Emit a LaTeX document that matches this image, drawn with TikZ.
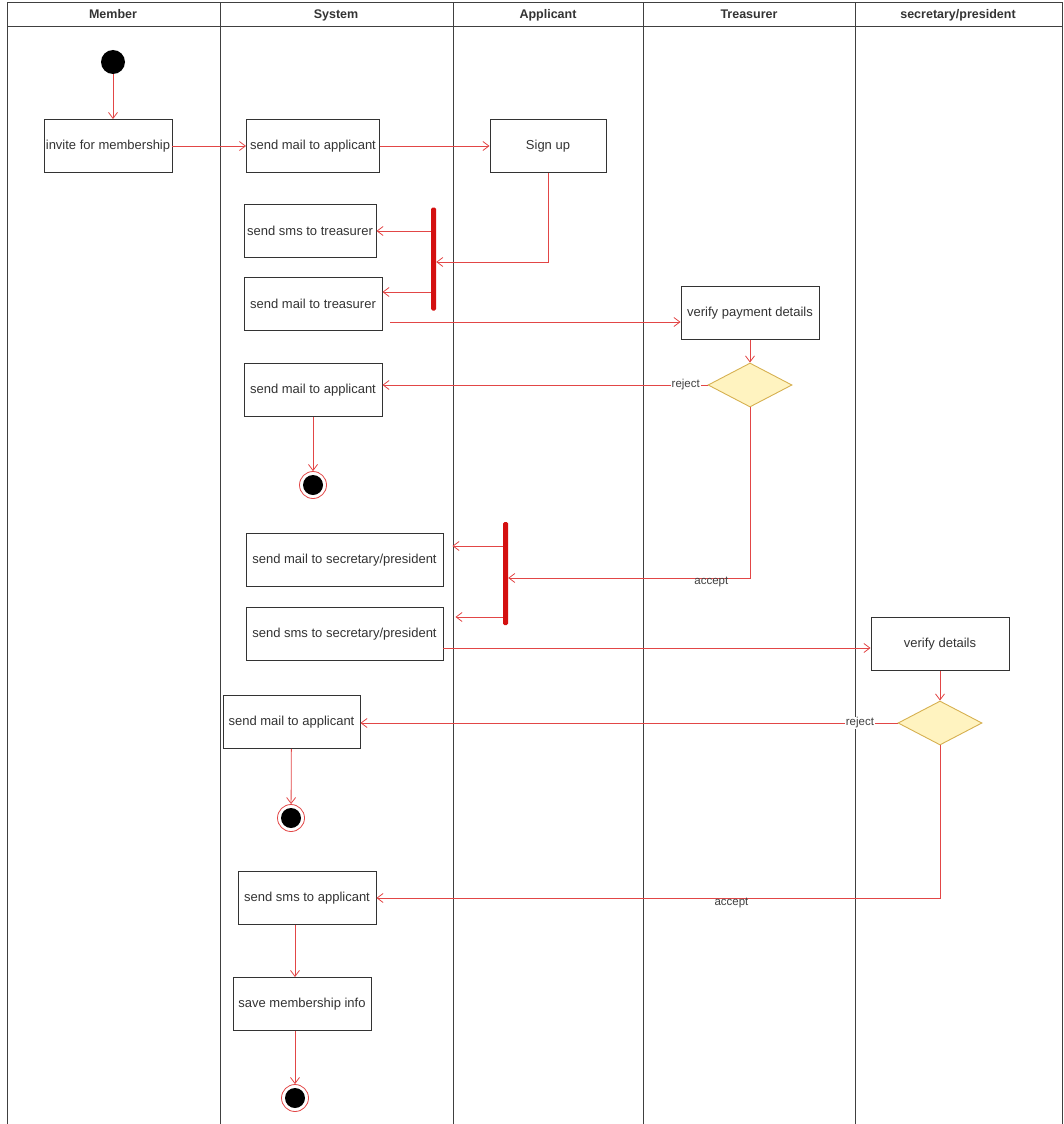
\documentclass[tikz,border=0pt]{standalone}
\usepackage{fontspec}
\setmainfont{Liberation Sans}
\usetikzlibrary{shapes.geometric,arrows.meta,calc}
\definecolor{flowred}{RGB}{226,70,70}
\definecolor{barred}{RGB}{212,16,16}
\definecolor{decfill}{RGB}{255,243,192}
\definecolor{decdraw}{RGB}{214,176,80}

\begin{document}
\begin{tikzpicture}[x=1pt,y=-1pt,font=\fontsize{13}{15}\selectfont,
	lane/.style={draw=black!75,line width=1pt},
	lanehead/.style={font=\fontsize{12.5}{14}\selectfont\bfseries,text=black!80,anchor=base},
	action/.style={draw=black!80,line width=0.9pt,fill=white,minimum width=138pt,minimum height=53pt,inner sep=1pt,text=black!80},
	decision/.style={diamond,draw=decdraw,fill=decfill,line width=0.9pt,minimum width=84pt,minimum height=44pt,inner sep=0pt},
	forkbar/.style={fill=barred,rounded corners=1.5pt,minimum width=5pt,minimum height=103pt,inner sep=0pt},
	startdot/.style={circle,fill=black,minimum size=24pt,inner sep=0pt},
	enddot/.style={circle,draw=flowred,fill=white,line width=0.8pt,minimum size=27pt,inner sep=0pt,
		path picture={\fill[black] (path picture bounding box.center) circle (10pt);}},
	flow/.style={draw=flowred,line width=0.8pt,-{Straight Barb[length=6pt,width=9pt]}},
	guard/.style={font=\fontsize{11.5}{13}\selectfont,text=black!75,inner sep=1pt}]
	\useasboundingbox (0,0) rectangle (1064,1124);

	% swimlanes
	\draw[lane] (7,1124) -- (7,3) -- (1062,3) -- (1062,1124);
	\draw[lane] (7,27) -- (1062,27);
	\foreach \x in {220,453,643,855}
		\draw[lane] (\x,3) -- (\x,1124);
	\node[lanehead] at (113,19) {Member};
	\node[lanehead] at (336,19) {System};
	\node[lanehead] at (548,19) {Applicant};
	\node[lanehead] at (749,19) {Treasurer};
	\node[lanehead] at (958,19) {secretary/president};

	% activities
	\node[startdot] (start) at (113,62) {};
	\node[action,minimum width=128pt] (invite) at (108,146) {invite for membership};
	\node[action,minimum width=133pt] (mailapp1) at (313,146) {send mail to applicant};
	\node[action,minimum width=116pt] (signup) at (548,146) {Sign up};
	\node[forkbar] (fork1) at (433.5,259) {};
	\node[action,minimum width=132pt] (smstreas) at (310,231) {send sms to treasurer};
	\node[action] (mailtreas) at (313,304) {send mail to treasurer};
	\node[action] (verifypay) at (750,313) {verify payment details};
	\node[decision] (dec1) at (750,385) {};
	\node[action] (mailapp2) at (313,390) {send mail to applicant};
	\node[enddot] (end1) at (313,485) {};
	\node[forkbar] (fork2) at (505.5,573.5) {};
	\node[action,minimum width=197pt] (mailsec) at (344.5,560) {send mail to secretary/president};
	\node[action,minimum width=197pt] (smssec) at (344.5,634) {send sms to secretary/president};
	\node[action] (verifydet) at (940,644) {verify details};
	\node[decision] (dec2) at (940,723) {};
	\node[action,minimum width=137pt] (mailapp3) at (291.5,722) {send mail to applicant};
	\node[enddot] (end2) at (291,818) {};
	\node[action] (smsapp) at (307,898) {send sms to applicant};
	\node[action] (saveinfo) at (302,1004) {save membership info};
	\node[enddot] (end3) at (295,1098) {};

	% flows
	\draw[flow] (start) -- (start |- invite.north);
	\draw[flow] (invite) -- (mailapp1);
	\draw[flow] (mailapp1) -- (signup);
	\draw[flow] (signup.south) |- ($(fork1.east)+(0,3)$);
	\draw[flow] (fork1.west |- smstreas.east) -- (smstreas.east);
	\draw[flow] ($(fork1.west |- mailtreas.east)+(0,-12)$) -- ($(mailtreas.east)+(0,-12)$);
	\draw[flow] ($(mailtreas.east)+(8,18)$) -- ($(verifypay.west)+(0,9)$);
	\draw[flow] (verifypay) -- (dec1);
	\draw[flow] (dec1) -- (dec1 -| mailapp2.east) node[guard,pos=0.067,fill=white] {reject};
	\draw[flow] (mailapp2) -- (end1);
	\draw[flow] (dec1.south) |- ($(fork2.east)+(0,4.5)$) node[guard,pos=0.58,anchor=north,yshift=2pt] {accept};
	\draw[flow,shorten >=9pt] ($(fork2.west |- mailsec.east)+(0,-14)$) -- ($(mailsec.east)+(0,-14)$);
	\draw[flow,shorten >=12pt] ($(fork2.west |- smssec.east)+(0,-17)$) -- ($(smssec.east)+(0,-17)$);
	\draw[flow] ($(smssec.east)+(0,14)$) coordinate (toverify) -- (toverify -| verifydet.west);
	\draw[flow] (verifydet) -- (dec2);
	\draw[flow] (dec2) -- (dec2 -| mailapp3.east) node[guard,pos=0.07,fill=white] {reject};
	\draw[flow] (mailapp3) -- (end2);
	\draw[flow] (dec2.south) |- (smsapp.east) node[guard,pos=0.685,anchor=north,yshift=1pt] {accept};
	\draw[flow] ($(smsapp.south)+(-12,0)$) -- ($(saveinfo.north)+(-7,0)$);
	\draw[flow] ($(saveinfo.south)+(-7,0)$) -- (end3);
\end{tikzpicture}
\end{document}
